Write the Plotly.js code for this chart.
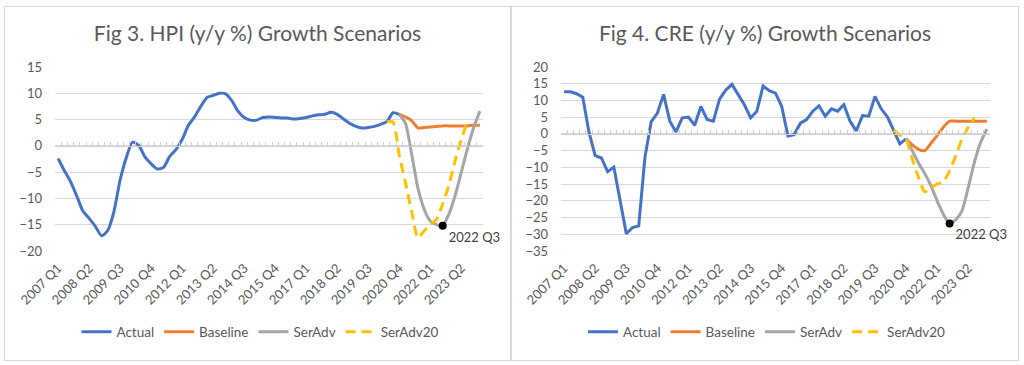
<!DOCTYPE html>
<html><head><meta charset="utf-8">
<script src="https://cdn.plot.ly/plotly-3.0.1.min.js"></script>
<style>
body{margin:0;background:#fff;width:1024px;height:365px;position:relative;overflow:hidden}
.box{position:absolute;top:7px;height:353px;outline:1px solid #d9d9d9}
#c1{left:5px;width:505px}
#c2{left:512px;width:506px}
</style></head><body>
<div id="c1" class="box"></div><div id="c2" class="box"></div>
<script>
const quarters = [
 '2007 Q1','2007 Q2','2007 Q3','2007 Q4','2008 Q1','2008 Q2','2008 Q3','2008 Q4',
 '2009 Q1','2009 Q2','2009 Q3','2009 Q4','2010 Q1','2010 Q2','2010 Q3','2010 Q4',
 '2011 Q1','2011 Q2','2011 Q3','2011 Q4','2012 Q1','2012 Q2','2012 Q3','2012 Q4',
 '2013 Q1','2013 Q2','2013 Q3','2013 Q4','2014 Q1','2014 Q2','2014 Q3','2014 Q4',
 '2015 Q1','2015 Q2','2015 Q3','2015 Q4','2016 Q1','2016 Q2','2016 Q3','2016 Q4',
 '2017 Q1','2017 Q2','2017 Q3','2017 Q4','2018 Q1','2018 Q2','2018 Q3','2018 Q4',
 '2019 Q1','2019 Q2','2019 Q3','2019 Q4','2020 Q1','2020 Q2','2020 Q3','2020 Q4',
 '2021 Q1','2021 Q2','2021 Q3','2021 Q4','2022 Q1','2022 Q2','2022 Q3','2022 Q4',
 '2023 Q1','2023 Q2','2023 Q3','2023 Q4','2024 Q1'];
const tickLabels = ['2007 Q1','2008 Q2','2009 Q3','2010 Q4','2012 Q1','2013 Q2','2014 Q3',
 '2015 Q4','2017 Q1','2018 Q2','2019 Q3','2020 Q4','2022 Q1','2023 Q2'];

// Series start quarters
const actualStart = '2007 Q1';
const scenarioStart = '2020 Q4';
const serAdv20Start = '2020 Q2';
const markedQuarter = '2022 Q3';

// Fig 3: HPI (y/y %)
const hpiActual = [-2.4,-4.7,-6.8,-9.5,-12.4,-13.8,-15.3,-17.1,-16.1,-12.5,
 -6.5,-2.2,0.7,0.1,-2.1,-3.4,-4.4,-4.1,-2.0,-0.7,
 1.2,3.9,5.5,7.5,9.2,9.6,10.0,9.9,8.6,6.6,
 5.4,4.9,4.9,5.4,5.5,5.4,5.3,5.3,5.1,5.2,
 5.4,5.7,5.9,6.0,6.4,6.0,5.1,4.3,3.7,3.4,
 3.5,3.7,4.1,4.6,6.3,6.0];
const hpiBaseline = [6.0,5.5,4.8,3.4,3.5,3.6,3.7,3.8,3.8,3.8,3.8,3.8,3.9,3.9];
const hpiSerAdv = [6.0,4.3,-1.6,-8.0,-12.0,-14.3,-15.0,-15.2,-13.0,-9.5,-5.0,-0.5,3.5,6.6];
const hpiSerAdv20 = [4.6,4.5,-1.8,-7.0,-12.5,-17.5,-16.2,-15.0,-14.0,-11.0,-7.5,-2.8,1.2,4.7];

// Fig 4: CRE (y/y %)
const creActual = [12.6,12.6,12.0,11.0,0.5,-6.5,-7.2,-11.3,-9.9,-19.5,
 -29.8,-28.0,-27.5,-7.0,3.6,6.2,11.8,3.8,0.6,4.8,
 5.0,2.6,8.2,4.3,3.8,10.4,13.1,14.8,11.7,8.7,
 4.8,6.8,14.3,12.9,12.2,8.2,-0.6,-0.2,3.2,4.3,
 6.8,8.4,5.3,7.5,6.8,8.7,3.8,0.9,5.5,5.3,
 11.2,7.5,5.1,1.0,-3.0,-1.5];
const creBaseline = [-1.5,-3.3,-4.6,-5.0,-2.8,-0.5,2.0,3.8,3.8,3.8,3.8,3.8,3.8,3.8];
const creSerAdv = [-1.5,-5.0,-8.7,-11.8,-15.5,-20.0,-24.0,-26.8,-25.6,-23.0,-16.0,-8.4,-2.5,1.4];
const creSerAdv20 = [1.0,-0.3,-1.5,-7.5,-13.0,-17.3,-16.0,-15.0,-14.3,-11.0,-6.5,-1.5,2.0,4.8];

const seriesNames = ['Actual','Baseline','SerAdv','SerAdv20'];
const seriesColors = ['#4472C4','#ED7D31','#A5A5A5','#FFC000'];

function xs(start, vals){ const s = quarters.indexOf(start); return quarters.slice(s, s + vals.length); }

const FONT = 'Lato, "Open Sans", sans-serif';
const GRID = '#d9d9d9';

function build(div, title, actual, base, adv, adv20, yr, actualShape, margL, margR){
  const markIdx = quarters.indexOf(markedQuarter) - quarters.indexOf(scenarioStart);
  const traces = [
    {x: quarters, y: quarters.map(()=>0), xaxis:'x2', yaxis:'y', mode:'lines', line:{width:0, color:'rgba(0,0,0,0)'}, hoverinfo:'skip', showlegend:false},
    {x: xs(actualStart, actual), y: actual, name: seriesNames[0], mode:'lines', line:{color:seriesColors[0], width:3, shape:actualShape, smoothing:0.6}},
    {x: xs(scenarioStart, base), y: base, name: seriesNames[1], mode:'lines', line:{color:seriesColors[1], width:3, shape:'spline', smoothing:0.6}},
    {x: xs(scenarioStart, adv), y: adv, name: seriesNames[2], mode:'lines', line:{color:seriesColors[2], width:3, shape:'spline', smoothing:0.6}},
    {x: xs(serAdv20Start, adv20), y: adv20, name: seriesNames[3], mode:'lines', line:{color:seriesColors[3], width:3, dash:'10px,6px', shape:'spline', smoothing:0.6}},
    {x: [markedQuarter], y: [adv[markIdx]], mode:'markers+text', text:[markedQuarter], textposition:'bottom right',
     textfont:{family:FONT, size:13, color:'#404040'}, marker:{color:'#000', size:8}, showlegend:false, cliponaxis:false, hoverinfo:'skip'}
  ];
  const zeroPos = (0 - yr[0]) / (yr[1] - yr[0]);
  const layout = {
    width: div.offsetWidth, height: 353,
    margin:{l:margL, r:margR, t:60, b:106},
    paper_bgcolor:'#fff', plot_bgcolor:'#fff',
    font:{family:FONT, color:'#595959', size:13},
    title:{text:title, x:0.5, xref:'container', xanchor:'center', y:0.925, yref:'container', yanchor:'middle',
           font:{family:FONT, size:21, color:'#595959'}},
    xaxis:{type:'category', categoryorder:'array', categoryarray:quarters, range:[-0.5, quarters.length-0.5],
           tickmode:'array', tickvals:tickLabels, ticktext:tickLabels, tickangle:-45, ticks:'',
           showgrid:false, showline:false, zeroline:false, ticklabelstandoff:6,
           tickfont:{family:FONT, size:13, color:'#595959'}},
    xaxis2:{type:'category', overlaying:'x', anchor:'free', position:zeroPos, side:'bottom',
           categoryorder:'array', categoryarray:quarters, range:[-0.5, quarters.length-0.5],
           tickmode:'linear', tick0:0, dtick:1, tickson:'boundaries', ticks:'inside', ticklen:4, tickwidth:1,
           tickcolor:'#cfcfcf', showticklabels:false, showline:true, linecolor:'#cfcfcf', linewidth:1,
           showgrid:false, zeroline:false},
    yaxis:{range:yr, dtick:5, tick0:0, showgrid:true, gridcolor:GRID, gridwidth:1, zeroline:false, showline:false,
           ticks:'', ticklabelstandoff:12, tickfont:{family:FONT, size:13, color:'#595959'}},
    showlegend:true,
    legend:{orientation:'h', x:0.48, xanchor:'center', y:-0.44, yanchor:'middle', font:{family:FONT, size:13.5, color:'#595959'},
            bgcolor:'rgba(0,0,0,0)', traceorder:'normal'}
  };
  Plotly.newPlot(div, traces, layout, {displayModeBar:false, staticPlot:true});
}

build(document.getElementById('c1'), 'Fig 3. HPI (y/y %) Growth Scenarios', hpiActual, hpiBaseline, hpiSerAdv, hpiSerAdv20, [-20,15], 'spline', 50, 27);
build(document.getElementById('c2'), 'Fig 4. CRE (y/y %) Growth Scenarios', creActual, creBaseline, creSerAdv, creSerAdv20, [-35,20], 'linear', 49, 28);
</script>
</body></html>
